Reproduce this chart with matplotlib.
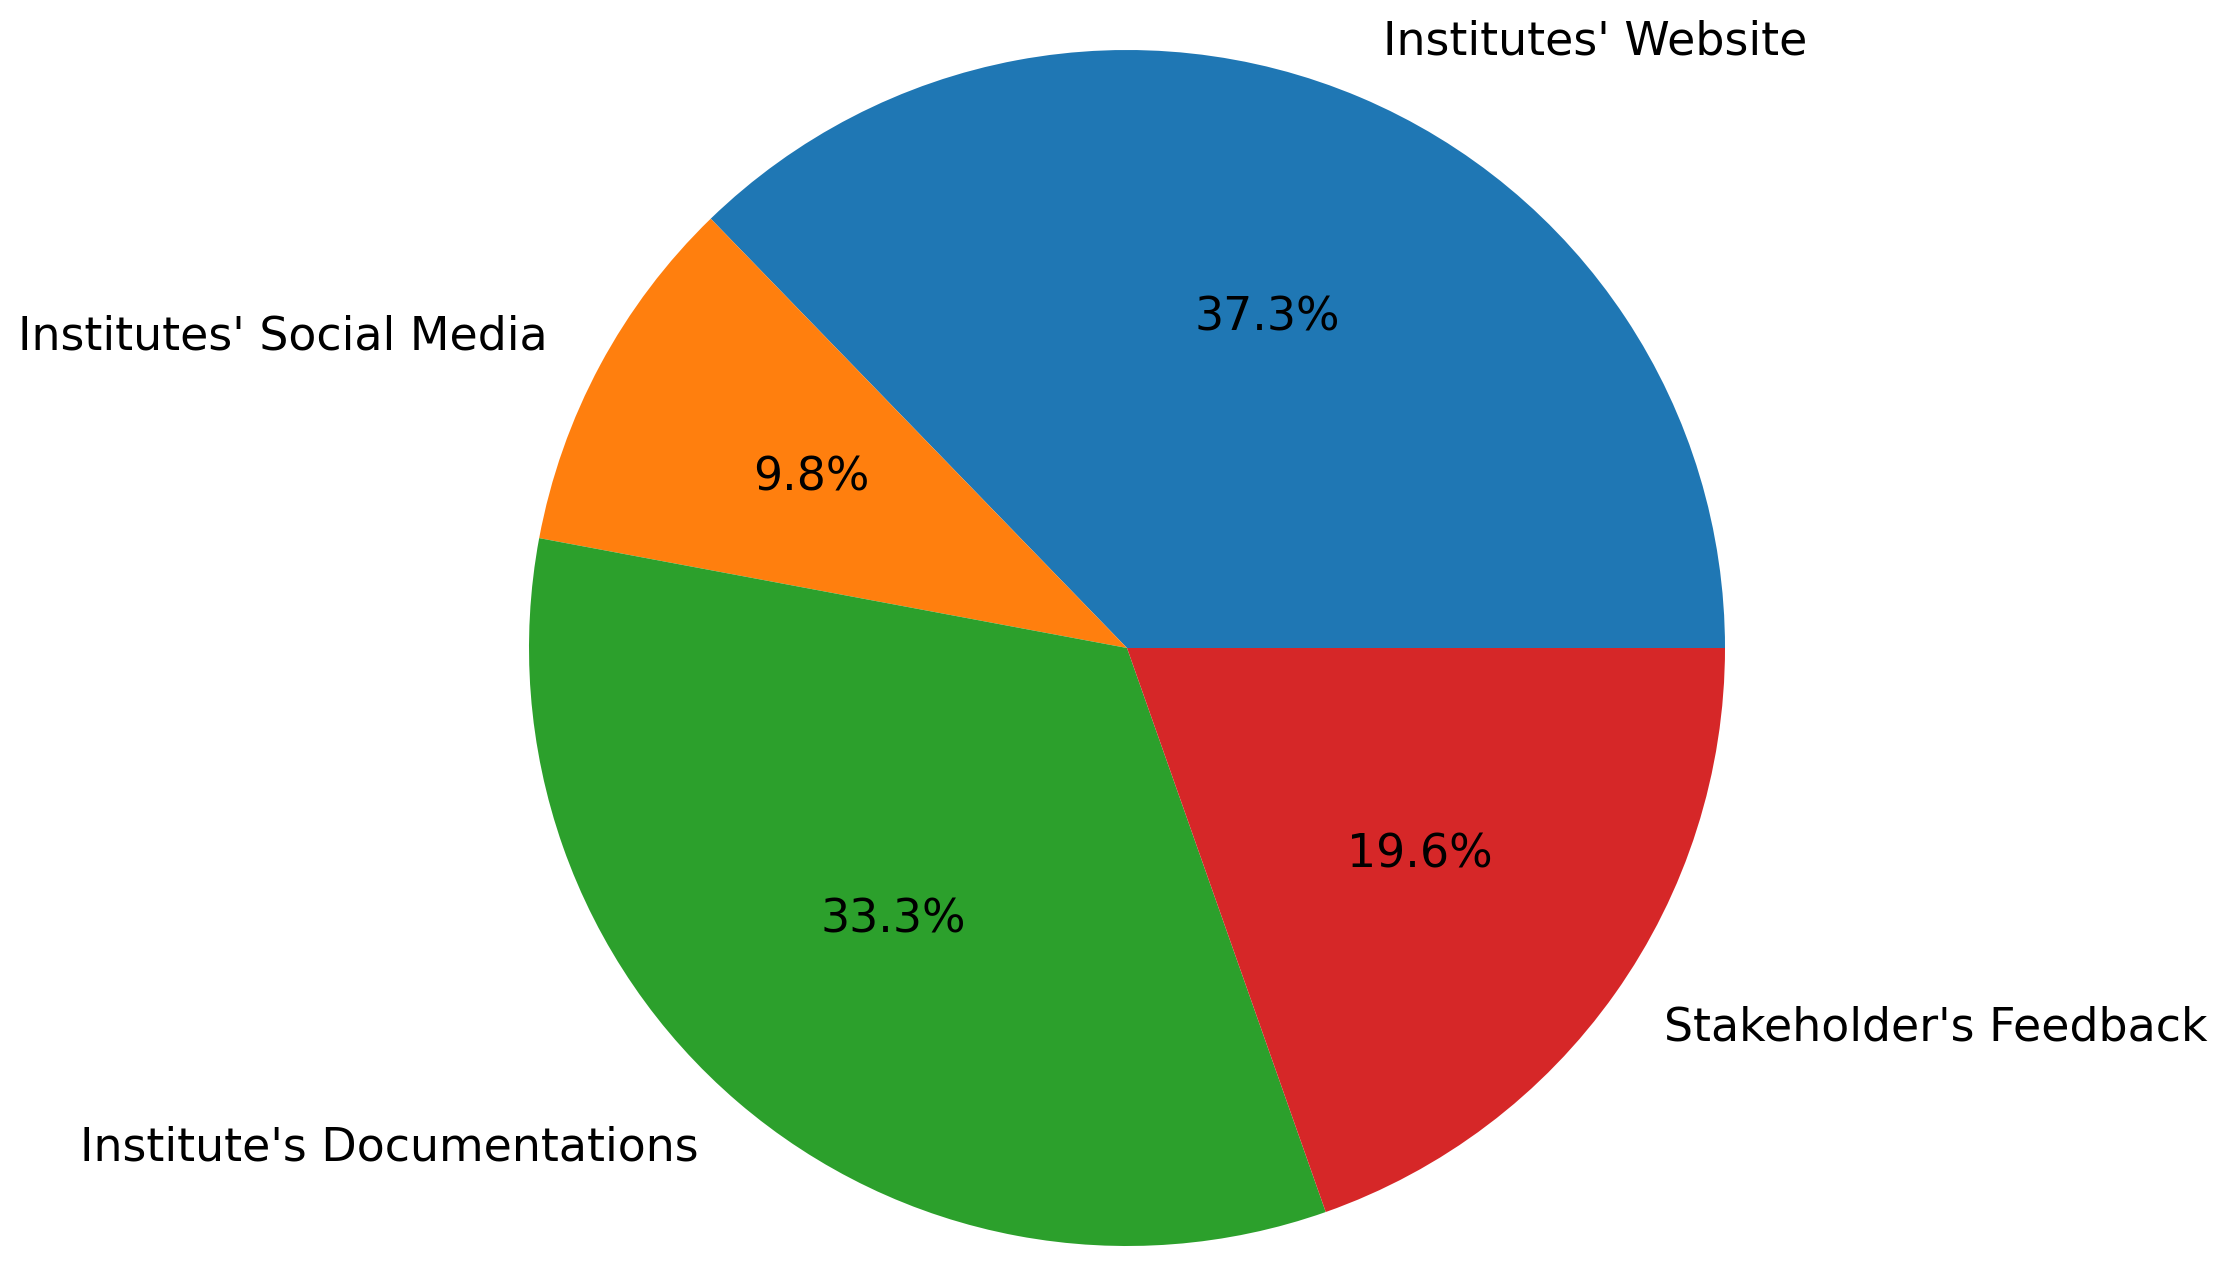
import matplotlib
matplotlib.use('Agg')
from matplotlib import pyplot as plt

labels = ["Institutes' Website", "Institutes' Social Media", "Institute's Documentations", "Stakeholder's Feedback"]
counts = [19, 5, 17, 10]

fig = plt.figure(figsize=(22.34, 12.77), dpi=100)
# pie centre ~ (1127, 648) px, radius ~ 598 px
ax = fig.add_axes([(1127 - 598) / 2234, (1277 - 648 - 598) / 1277, 1196 / 2234, 1196 / 1277])
ax.pie(counts, labels=labels, autopct='%1.1f%%', textprops={'fontsize': 33})
ax.set_xlim(-1, 1)
ax.set_ylim(-1, 1)
ax.set_aspect('equal')
ax.axis('off')

fig.savefig('out.png', dpi=100)
